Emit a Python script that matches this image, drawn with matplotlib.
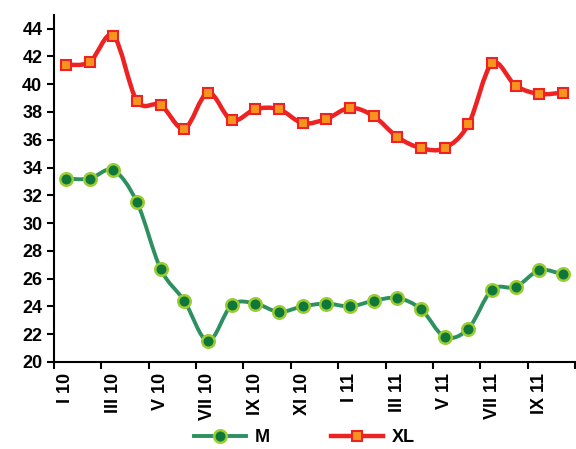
import numpy as np
import matplotlib.pyplot as plt
from matplotlib.path import Path
from matplotlib.patches import PathPatch
from matplotlib.lines import Line2D

plt.rcParams['font.family'] = ['Liberation Sans', 'DejaVu Sans']
plt.rcParams['font.weight'] = 'bold'

# monthly values, I 2010 .. X 2011
m_vals = [33.2, 33.2, 33.8, 31.5, 26.7, 24.4, 21.5, 24.1, 24.2, 23.6, 24.0,
          24.2, 24.0, 24.4, 24.6, 23.8, 21.8, 22.4, 25.2, 25.4, 26.6, 26.3]
xl_vals = [41.4, 41.6, 43.5, 38.8, 38.5, 36.8, 39.4, 37.4, 38.2, 38.2, 37.2,
           37.5, 38.3, 37.7, 36.2, 35.4, 35.4, 37.1, 41.5, 39.9, 39.3, 39.4]
tick_labels = ['I 10', 'III 10', 'V 10', 'VII 10', 'IX 10', 'XI 10',
               'I 11', 'III 11', 'V 11', 'VII 11', 'IX 11']

x = np.arange(len(m_vals))


def smooth_path(xs, ys):
    # cubic bezier through every point (catmull-rom control points)
    p = np.column_stack([xs, ys]).astype(float)
    ext = np.vstack([p[0], p, p[-1]])
    verts = [p[0]]
    codes = [Path.MOVETO]
    for i in range(len(p) - 1):
        a, b, c, d = ext[i], ext[i + 1], ext[i + 2], ext[i + 3]
        verts += [b + (c - a) / 6, c - (d - b) / 6, c]
        codes += [Path.CURVE4] * 3
    return Path(verts, codes)


fig = plt.figure(figsize=(5.76, 4.49), dpi=100)
ax = fig.add_axes([0.094, 0.194, 0.904, 0.773])

m_line = '#2e9060'
m_face = '#10773a'
m_edge = '#9acd32'
xl_line = '#ee2222'
xl_face = '#f7941d'

ax.add_patch(PathPatch(smooth_path(x, xl_vals), fill=False, edgecolor=xl_line,
                       lw=3.2, capstyle='round', zorder=2))
ax.plot(x, xl_vals, ls='none', marker='s', ms=7.5, mfc=xl_face, mec=xl_line,
        mew=1.5, zorder=3)

ax.add_patch(PathPatch(smooth_path(x, m_vals), fill=False, edgecolor=m_line,
                       lw=2.8, capstyle='round', zorder=2))
ax.plot(x, m_vals, ls='none', marker='o', ms=9, mfc=m_face, mec=m_edge,
        mew=1.8, zorder=3)

ax.set_xlim(-0.5, len(x) - 0.5)
ax.set_ylim(20, 45)
ax.set_yticks(np.arange(20, 45, 2))
ax.tick_params(axis='y', labelsize=13, width=1.5, length=5, direction='out')
for t in ax.get_yticklabels():
    t.set_fontweight('bold')

# tick marks on category boundaries, labels on category centers
ax.set_xticks(np.arange(-0.5, len(x), 2))
ax.set_xticklabels([])
ax.set_xticks(x[::2], minor=True)
ax.set_xticklabels(tick_labels, minor=True, rotation=90, fontsize=13,
                   fontweight='bold')
ax.tick_params(axis='x', which='major', width=1.5, length=5, direction='out')
ax.tick_params(axis='x', which='minor', length=0, pad=8)

for s in ['top', 'right']:
    ax.spines[s].set_visible(False)
for s in ['left', 'bottom']:
    ax.spines[s].set_linewidth(1.5)

handles = [
    Line2D([], [], color=m_line, lw=2.8, marker='o', ms=9, mfc=m_face,
           mec=m_edge, mew=1.8),
    Line2D([], [], color=xl_line, lw=3.2, marker='s', ms=7.5, mfc=xl_face,
           mec=xl_line, mew=1.5),
]
fig.legend(handles, ['M', 'XL'], loc='lower center', ncol=2, frameon=False,
           bbox_to_anchor=(0.528, -0.03), handlelength=2.9, handletextpad=0.45,
           columnspacing=3.4, prop={'size': 13, 'weight': 'bold'})

fig.savefig('out.png', dpi=100)
